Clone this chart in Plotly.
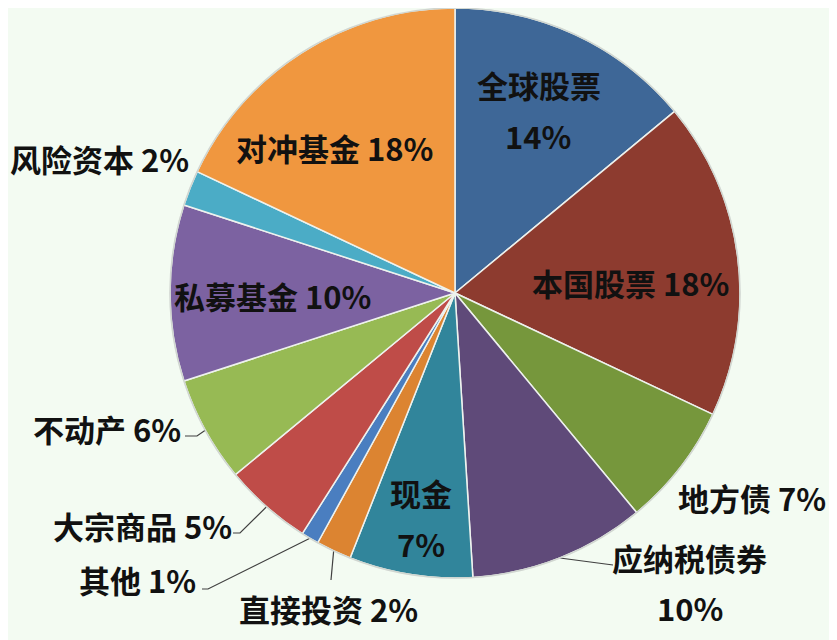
import math
import plotly.graph_objects as go

# asset allocation, clockwise from 12 o'clock
labels = ["全球股票", "本国股票", "地方债", "应纳税债券", "现金", "直接投资",
          "其他", "大宗商品", "不动产", "私募基金", "风险资本", "对冲基金"]
values = [14, 18, 7, 10, 7, 2, 1, 5, 6, 10, 2, 18]
colors = ["#3E6797", "#8D3B2F", "#76973C", "#5F4A79", "#31859B", "#DC8431",
          "#4A7EC0", "#BF4C48", "#97BA54", "#7C62A1", "#4BACC6", "#F0973F"]

W, H = 837, 640
OFF = 8  # page body margin, positions below are screen pixels
CX, CY, R = 455, 293, 285
BG = "#F3FBF2"
FONT = "Noto Sans CJK SC"


def to_paper(x, y):
    return (x - OFF) / W, 1 - (y - OFF) / H


def edge_point(i, r=R):
    total = sum(values)
    mid = (sum(values[:i]) + values[i] / 2) / total * 2 * math.pi
    return CX + r * math.sin(mid), CY - r * math.cos(mid)


# screen positions of the label lines (name, pct) and leader line bends
label_pos = {
    0: [(539, 84), (538, 135)],
    1: [(630, 282)],
    2: [(752, 497)],
    3: [(689, 557), (690, 607)],
    4: [(421, 492), (421, 543)],
    5: [(328, 608)],
    6: [(137, 579)],
    7: [(142, 525)],
    8: [(107, 428)],
    9: [(272, 295)],
    10: [(99, 158)],
    11: [(334, 147)],
}
leaders = {
    3: [(613, 565)],
    5: [(331, 580)],
    6: [(208, 589), (202, 589)],
    7: [(240, 533), (233, 533)],
    8: [(197, 436), (185, 436)],
}

x0, y1 = to_paper(CX - R, CY - R)
x1, y0 = to_paper(CX + R, CY + R)

fig = go.Figure(
    go.Pie(
        labels=labels,
        values=values,
        sort=False,
        direction="clockwise",
        rotation=0,
        textinfo="none",
        hoverinfo="label+percent",
        marker=dict(colors=colors, line=dict(color="#EEF2EE", width=1.5)),
        domain=dict(x=[x0, x1], y=[y0, y1]),
        showlegend=False,
    )
)

annos = []
for i, spots in label_pos.items():
    if len(spots) == 2:
        texts = [labels[i], f"{values[i]}%"]
    else:
        texts = [f"{labels[i]} {values[i]}%"]
    for t, (x, y) in zip(texts, spots):
        ax, ay = to_paper(x, y)
        annos.append(dict(
            x=ax, y=ay, xref="paper", yref="paper", text="<b>" + t + "</b>",
            showarrow=False, xanchor="center", yanchor="middle",
            font=dict(family=FONT, size=31, color="#111111"),
        ))

shapes = []
for i, pts in leaders.items():
    path = []
    for k, (x, y) in enumerate([edge_point(i)] + pts):
        px, py = to_paper(x, y)
        path.append(("M" if k == 0 else "L") + f" {px:.5f} {py:.5f}")
    shapes.append(dict(type="path", path=" ".join(path), xref="paper", yref="paper",
                       line=dict(color="#404040", width=1.2)))

# light outline round the pie
shapes.append(dict(type="circle", xref="paper", yref="paper",
                   x0=x0, x1=x1, y0=y0, y1=y1, line=dict(color="#D0D6D0", width=1.5)))

fig.update_layout(
    width=W,
    height=H,
    margin=dict(l=0, r=0, t=0, b=0),
    paper_bgcolor=BG,
    plot_bgcolor=BG,
    annotations=annos,
    shapes=shapes,
)

fig.write_html("out.html")
